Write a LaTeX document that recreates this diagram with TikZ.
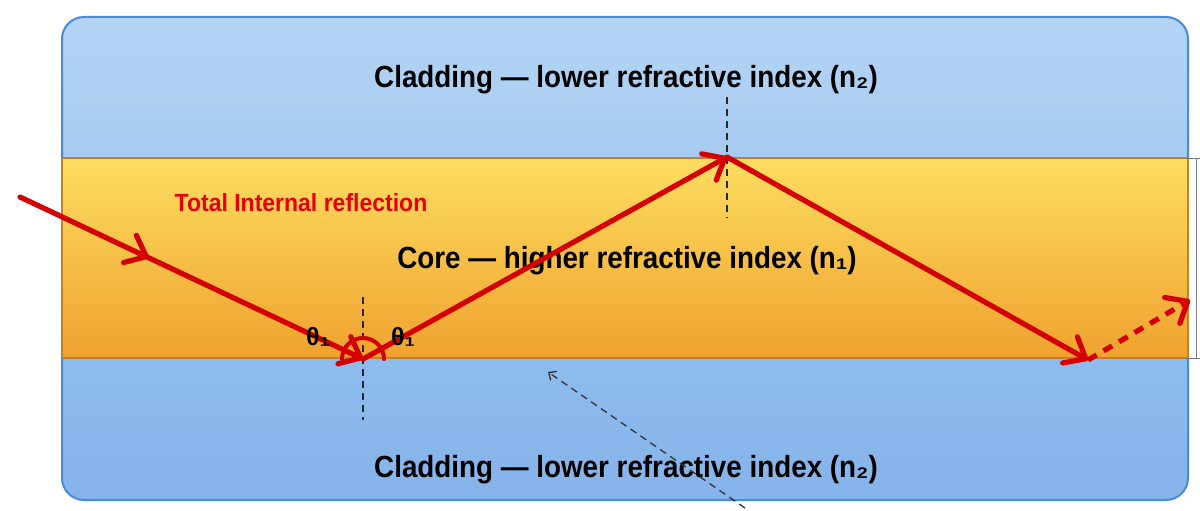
\documentclass[tikz,border=0pt]{standalone}
\usepackage{fontspec}
\setmainfont{Liberation Sans}
\usetikzlibrary{arrows.meta,decorations.markings}
\definecolor{cladTopA}{HTML}{B4D4F5}
\definecolor{cladTopB}{HTML}{A6CBF0}
\definecolor{cladBotA}{HTML}{8DBCEE}
\definecolor{cladBotB}{HTML}{86B3EA}
\definecolor{coreA}{HTML}{FCDD60}
\definecolor{coreB}{HTML}{F0A22F}
\definecolor{borderblue}{HTML}{4A8ADA}
\definecolor{coreedge}{HTML}{C0802C}
\definecolor{rayred}{HTML}{D40000}
\definecolor{txtred}{HTML}{E60000}
\tikzset{
  tipr/.tip={Straight Barb[length=18pt,width=30pt,round]},
  tipk/.tip={Straight Barb[length=6pt,width=11pt]},
  ray/.style={draw=rayred, line width=5.2pt, line cap=round},
  normal/.style={draw=black!85, line width=1.4pt, dash pattern=on 7pt off 5pt},
  bigtxt/.style={font=\bfseries\fontsize{27.8}{30}\selectfont, text=black, inner sep=0pt, yscale=1.1, transform shape},
  redtxt/.style={font=\bfseries\fontsize{23}{26}\selectfont, text=txtred, inner sep=0pt, yscale=1.08, transform shape},
  angtxt/.style={font=\bfseries\fontsize{25}{27}\selectfont, text=black, inner sep=0pt},
}
\begin{document}
\begin{tikzpicture}[x=1pt,y=1pt]
\useasboundingbox (0,0) rectangle (1200,-511);
% background layers
\begin{scope}
  \clip[rounded corners=22pt] (62,-17) rectangle (1188,-500);
  \shade[top color=cladTopA, bottom color=cladTopB] (62,-17) rectangle (1188,-158);
  \shade[top color=cladBotA, bottom color=cladBotB] (62,-358) rectangle (1188,-500);
  \shade[top color=coreA, bottom color=coreB] (62,-158) rectangle (1188,-358);
\end{scope}
\draw[coreedge, line width=1.6pt] (62,-158) -- (1188,-158);
\draw[coreedge, line width=1.6pt] (62,-358) -- (1188,-358);
\draw[coreedge, line width=1.6pt] (62,-158) -- (62,-358);
\draw[coreedge, line width=1.6pt] (1188,-158) -- (1188,-358);
\draw[borderblue, line width=2pt, rounded corners=22pt]
  (62,-158) -- (62,-17) -- (1188,-17) -- (1188,-158);
\draw[borderblue, line width=2pt, rounded corners=22pt]
  (62,-358) -- (62,-500) -- (1188,-500) -- (1188,-358);
% right bracket
\draw[black!55, line width=1pt] (1186,-158) -- (1200,-158);
\draw[black!55, line width=1pt] (1186,-358) -- (1200,-358);
\draw[black!50, line width=1pt] (1196,-158) -- (1196,-358);
% texts
\node[bigtxt] (cladtop) at (626,-80) {Cladding — lower refractive index (n₂)};
\node[bigtxt] (cladbot) at (626,-470) {Cladding — lower refractive index (n₂)};
\node[bigtxt] (core) at (627,-261) {Core — higher refractive index (n₁)};
\node[redtxt] (tir) at (301,-203) {Total Internal reflection};
% normals
\coordinate (n1a) at (363,-297);
\coordinate (n1b) at (363,-420);
\coordinate (n2a) at (727,-97);
\coordinate (n2b) at (727,-218);
\draw[normal] (n1a) -- (n1b);
\draw[normal] (n2a) -- (n2b);
% rays
\coordinate (s) at (20,-197);
\coordinate (p1) at (363,-359);
\coordinate (p2) at (727,-157);
\coordinate (p3) at (1088,-360);
\coordinate (p4) at (1190,-300);
\draw[ray, -{tipr}, decoration={markings, mark=at position 0.375 with {\arrow{tipr}}}, postaction=decorate] (s) -- (p1);
\draw[ray, line width=4pt] ([xshift=21pt]p1) arc (0:180:21pt);
\draw[ray, -{tipr}] (p1) -- (p2);
\draw[ray, -{tipr}] (p2) -- (p3);
\draw[ray, -{tipr}, dash pattern=on 10pt off 8pt, line cap=butt] (p3) -- (p4);
% angle labels
\node[angtxt] (th1) at (318,-337) {θ₁};
\node[angtxt] (th2) at (403,-337) {θ₁};
% pointer
\coordinate (ptrs) at (745,-508);
\coordinate (ptre) at (548,-372);
\draw[draw=black!80, line width=1.3pt, dash pattern=on 7pt off 5pt, -{tipk}] (ptrs) -- (ptre);
\end{tikzpicture}
\end{document}
